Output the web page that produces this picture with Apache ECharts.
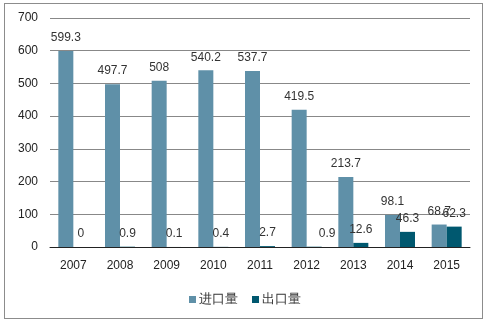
<!DOCTYPE html>
<html>
<head>
<meta charset="utf-8">
<script src="https://cdn.jsdelivr.net/npm/echarts@6/dist/echarts.min.js"></script>
<style>
  html, body { margin: 0; padding: 0; background: #fff; }
  #frame { position: absolute; left: 4px; top: 3px; width: 479px; height: 316px; border: 1px solid #8c8c8c; box-sizing: border-box; }
  #chart { width: 490px; height: 324px; position: absolute; left: 0; top: 0; }
</style>
</head>
<body>
<div id="frame"></div>
<div id="chart"></div>
<script>
const years = ['2007', '2008', '2009', '2010', '2011', '2012', '2013', '2014', '2015'];
const importVol = [599.3, 497.7, 508, 540.2, 537.7, 419.5, 213.7, 98.1, 68.7];
const exportVol = [0, 0.9, 0.1, 0.4, 2.7, 0.9, 12.6, 46.3, 62.3];
const yTicks = [0, 100, 200, 300, 400, 500, 600, 700];
const seriesNames = ['进口量', '出口量'];

const font = 'Liberation Sans, Arial, sans-serif';
const labelStyle = { show: true, position: 'top', distance: 7, color: '#333', fontSize: 12, fontFamily: font };

// the 2012 export label sits a little to the right of its bar
const exportData = exportVol.map((v, i) => i === 5 ? { value: v, label: { offset: [13, 0] } } : v);

const chart = echarts.init(document.getElementById('chart'), null, { renderer: 'canvas' });
chart.setOption({
  animation: false,
  backgroundColor: 'transparent',
  grid: { left: 50, right: 20, top: 18, bottom: 77 },
  legend: {
    data: seriesNames,
    bottom: 13,
    left: 'center',
    itemWidth: 7,
    itemHeight: 7,
    itemGap: 14,
    icon: 'rect',
    textStyle: { fontSize: 13, color: '#333', fontFamily: font, padding: [0, 0, 0, -2] }
  },
  xAxis: {
    type: 'category',
    data: years,
    axisLine: { lineStyle: { color: '#222', width: 1 } },
    axisTick: { show: false },
    axisLabel: { color: '#222', fontSize: 12, fontFamily: font, margin: 13 }
  },
  yAxis: {
    type: 'value',
    min: yTicks[0],
    max: yTicks[yTicks.length - 1],
    interval: 100,
    axisLine: { show: false },
    axisTick: { show: false },
    axisLabel: { color: '#222', fontSize: 12, fontFamily: font, margin: 12 },
    splitLine: { lineStyle: { color: '#888', width: 1 } }
  },
  series: [
    {
      name: seriesNames[0],
      type: 'bar',
      data: importVol,
      barWidth: 15,
      barGap: '0%',
      itemStyle: { color: '#5F90A8' },
      label: labelStyle
    },
    {
      name: seriesNames[1],
      type: 'bar',
      data: exportData,
      barWidth: 15,
      barGap: '0%',
      itemStyle: { color: '#00586F' },
      label: labelStyle
    }
  ]
});
</script>
</body>
</html>
